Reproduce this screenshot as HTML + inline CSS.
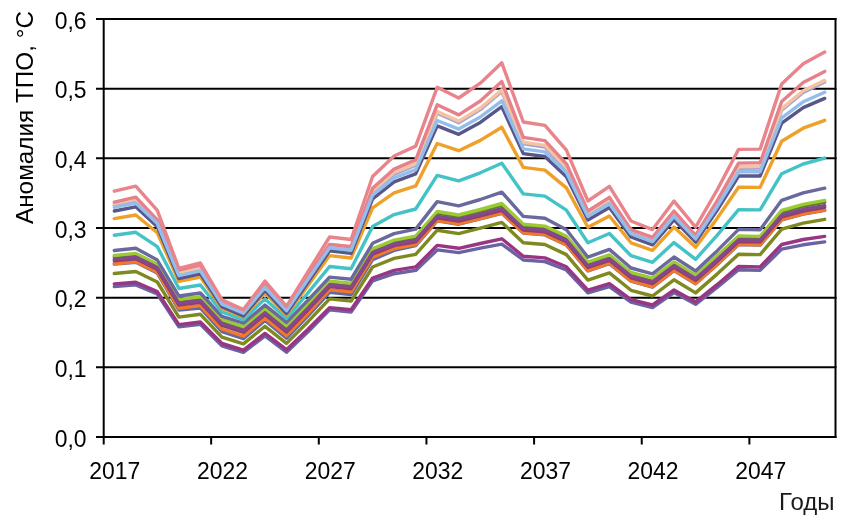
<!DOCTYPE html>
<html><head><meta charset="utf-8"><style>
html,body{margin:0;padding:0;background:#fff;}
body{width:849px;height:521px;overflow:hidden;}
svg{display:block;filter:blur(0.35px);}
text{font-family:"Liberation Sans",Arial,sans-serif;font-size:24px;fill:#000;}
</style></head><body>
<svg width="849" height="521" viewBox="0 0 849 521">
<g stroke="#000" stroke-width="2" fill="none">
<line x1="96" y1="437.00" x2="836.5" y2="437.00"/>
<line x1="96" y1="367.33" x2="836.5" y2="367.33"/>
<line x1="96" y1="297.67" x2="836.5" y2="297.67"/>
<line x1="96" y1="228.00" x2="836.5" y2="228.00"/>
<line x1="96" y1="158.33" x2="836.5" y2="158.33"/>
<line x1="96" y1="88.67" x2="836.5" y2="88.67"/>
<line x1="96" y1="19.00" x2="836.5" y2="19.00"/>
</g>
<g fill="none" stroke-width="3.4" stroke-linejoin="round" stroke-linecap="round">
<polyline points="114.3,286.6 135.8,284.9 157.3,294.0 178.9,326.8 200.4,324.3 221.9,345.8 243.4,352.4 265.0,335.8 286.5,352.2 308.0,331.7 329.6,309.9 351.1,312.1 372.6,280.9 394.1,273.7 415.7,270.4 437.2,249.9 458.7,252.6 480.3,248.1 501.8,244.1 523.3,260.0 544.9,261.6 566.4,270.0 587.9,292.9 609.4,286.5 631.0,302.1 652.5,307.5 674.0,292.6 695.6,304.3 717.1,287.4 738.6,269.7 760.1,270.2 781.7,249.1 803.2,244.8 824.7,241.9" stroke="#6B62A4"/>
<polyline points="114.3,283.9 135.8,282.2 157.3,291.6 178.9,324.6 200.4,322.0 221.9,343.5 243.4,350.1 265.0,333.4 286.5,349.7 308.0,329.2 329.6,307.6 351.1,309.7 372.6,278.0 394.1,270.4 415.7,266.9 437.2,245.4 458.7,248.3 480.3,243.5 501.8,238.8 523.3,256.2 544.9,257.9 566.4,266.8 587.9,290.2 609.4,283.7 631.0,299.6 652.5,305.0 674.0,289.9 695.6,301.9 717.1,284.7 738.6,266.4 760.1,266.9 781.7,244.5 803.2,239.5 824.7,236.4" stroke="#993683"/>
<polyline points="114.3,273.5 135.8,271.5 157.3,282.0 178.9,317.1 200.4,314.3 221.9,337.1 243.4,343.9 265.0,326.3 286.5,343.4 308.0,321.7 329.6,298.9 351.1,301.1 372.6,267.0 394.1,258.4 415.7,254.4 437.2,230.2 458.7,233.6 480.3,228.2 501.8,222.4 523.3,242.7 544.9,244.5 566.4,254.6 587.9,280.1 609.4,272.9 631.0,290.3 652.5,296.0 674.0,279.8 695.6,292.9 717.1,274.1 738.6,254.2 760.1,254.6 781.7,229.1 803.2,223.1 824.7,219.3" stroke="#7E891F"/>
<polyline points="114.3,264.1 135.8,262.3 157.3,273.1 178.9,310.0 200.4,308.1 221.9,331.6 243.4,338.7 265.0,320.5 286.5,338.2 308.0,315.8 329.6,292.3 351.1,294.5 372.6,259.7 394.1,250.4 415.7,245.7 437.2,220.8 458.7,224.2 480.3,218.8 501.8,213.3 523.3,233.1 544.9,234.9 566.4,244.9 587.9,270.9 609.4,263.6 631.0,281.2 652.5,287.1 674.0,270.6 695.6,283.8 717.1,264.7 738.6,244.6 760.1,245.1 781.7,219.8 803.2,214.1 824.7,210.4" stroke="#6468A2"/>
<polyline points="114.3,263.7 135.8,261.7 157.3,272.3 178.9,308.3 200.4,305.5 221.9,329.0 243.4,336.1 265.0,317.9 286.5,335.6 308.0,313.2 329.6,289.7 351.1,291.9 372.6,257.1 394.1,248.6 415.7,244.6 437.2,220.5 458.7,223.9 480.3,218.5 501.8,213.0 523.3,232.8 544.9,234.6 566.4,244.6 587.9,270.6 609.4,263.3 631.0,280.9 652.5,286.8 674.0,270.3 695.6,283.5 717.1,264.4 738.6,244.3 760.1,244.8 781.7,219.5 803.2,213.8 824.7,210.1" stroke="#F07A2A"/>
<polyline points="114.3,256.8 135.8,254.8 157.3,265.4 178.9,300.9 200.4,298.1 221.9,321.1 243.4,328.1 265.0,310.2 286.5,327.5 308.0,305.5 329.6,282.5 351.1,284.7 372.6,250.2 394.1,241.6 415.7,237.6 437.2,213.1 458.7,216.6 480.3,211.1 501.8,205.3 523.3,225.7 544.9,227.5 566.4,237.7 587.9,263.5 609.4,256.2 631.0,273.8 652.5,279.6 674.0,263.2 695.6,276.4 717.1,257.4 738.6,237.3 760.1,237.8 781.7,212.1 803.2,206.0 824.7,202.3" stroke="#56802C"/>
<polyline points="114.3,255.5 135.8,253.4 157.3,264.2 178.9,299.5 200.4,296.7 221.9,319.7 243.4,326.6 265.0,308.8 286.5,326.0 308.0,304.1 329.6,281.2 351.1,283.3 372.6,248.9 394.1,240.2 415.7,236.1 437.2,211.5 458.7,215.0 480.3,209.5 501.8,203.5 523.3,224.3 544.9,226.1 566.4,236.3 587.9,262.2 609.4,254.9 631.0,272.5 652.5,278.2 674.0,261.9 695.6,275.1 717.1,256.1 738.6,235.9 760.1,236.4 781.7,210.4 803.2,204.3 824.7,200.4" stroke="#9CC934"/>
<polyline points="114.3,260.8 135.8,258.8 157.3,269.3 178.9,305.0 200.4,302.2 221.9,325.4 243.4,332.4 265.0,314.5 286.5,332.0 308.0,309.8 329.6,286.5 351.1,288.7 372.6,254.2 394.1,245.7 415.7,241.8 437.2,217.8 458.7,221.1 480.3,215.8 501.8,210.3 523.3,230.1 544.9,231.9 566.4,241.8 587.9,267.5 609.4,260.3 631.0,277.8 652.5,283.6 674.0,267.2 695.6,280.4 717.1,261.5 738.6,241.5 760.1,241.9 781.7,216.8 803.2,211.0 824.7,207.4" stroke="#903E6E"/>
<polyline points="114.3,259.1 135.8,257.1 157.3,267.6 178.9,303.3 200.4,300.5 221.9,323.7 243.4,330.7 265.0,312.8 286.5,330.3 308.0,308.1 329.6,284.8 351.1,287.0 372.6,252.5 394.1,244.0 415.7,240.1 437.2,216.1 458.7,219.4 480.3,214.1 501.8,208.6 523.3,228.4 544.9,230.2 566.4,240.1 587.9,265.8 609.4,258.6 631.0,276.1 652.5,281.9 674.0,265.5 695.6,278.7 717.1,259.8 738.6,239.8 760.1,240.2 781.7,215.1 803.2,209.3 824.7,205.7" stroke="#86488C"/>
<polyline points="114.3,250.5 135.8,248.2 157.3,260.0 178.9,296.0 200.4,293.0 221.9,316.3 243.4,323.1 265.0,305.1 286.5,322.3 308.0,300.1 329.6,277.1 351.1,279.2 372.6,243.3 394.1,233.6 415.7,229.1 437.2,201.6 458.7,205.9 480.3,199.5 501.8,192.1 523.3,216.4 544.9,218.3 566.4,229.8 587.9,257.2 609.4,249.4 631.0,268.0 652.5,273.8 674.0,257.0 695.6,271.0 717.1,250.9 738.6,229.4 760.1,229.7 781.7,200.3 803.2,192.8 824.7,188.2" stroke="#6A699D"/>
<polyline points="114.3,235.2 135.8,232.3 157.3,246.6 178.9,288.5 200.4,285.0 221.9,311.9 243.4,319.8 265.0,298.9 286.5,318.5 308.0,292.9 329.6,266.5 351.1,268.8 372.6,226.4 394.1,214.6 415.7,209.0 437.2,175.4 458.7,180.8 480.3,172.8 501.8,163.2 523.3,193.9 544.9,196.1 566.4,210.2 587.9,242.8 609.4,233.5 631.0,255.7 652.5,262.3 674.0,242.6 695.6,259.3 717.1,235.4 738.6,209.7 760.1,209.9 781.7,173.7 803.2,164.0 824.7,158.1" stroke="#43C3C5"/>
<polyline points="114.3,218.6 135.8,215.0 157.3,232.8 178.9,281.4 200.4,277.1 221.9,308.2 243.4,317.0 265.0,292.9 286.5,315.1 308.0,285.6 329.6,255.6 351.1,258.0 372.6,207.8 394.1,192.9 415.7,185.9 437.2,143.5 458.7,150.7 480.3,140.4 501.8,127.3 523.3,167.4 544.9,170.1 566.4,187.9 587.9,227.3 609.4,216.0 631.0,242.8 652.5,250.3 674.0,227.1 695.6,247.3 717.1,218.4 738.6,187.3 760.1,187.4 781.7,141.3 803.2,128.2 824.7,120.3" stroke="#EEA029"/>
<polyline points="114.3,211.0 135.8,206.8 157.3,226.8 178.9,278.5 200.4,273.8 221.9,306.7 243.4,315.9 265.0,290.3 286.5,313.5 308.0,282.3 329.6,250.8 351.1,253.3 372.6,198.8 394.1,181.9 415.7,173.9 437.2,125.9 458.7,134.3 480.3,122.4 501.8,106.7 523.3,153.6 544.9,156.5 566.4,176.7 587.9,219.9 609.4,207.6 631.0,237.0 652.5,244.8 674.0,219.9 695.6,242.1 717.1,210.4 738.6,176.0 760.1,176.0 781.7,123.2 803.2,107.6 824.7,98.4" stroke="#57578C"/>
<polyline points="114.3,205.3 135.8,200.8 157.3,222.2 178.9,274.1 200.4,269.2 221.9,301.9 243.4,310.8 265.0,285.3 286.5,307.8 308.0,276.9 329.6,246.1 351.1,248.3 372.6,192.3 394.1,174.1 415.7,165.3 437.2,113.2 458.7,122.7 480.3,109.6 501.8,91.5 523.3,143.9 544.9,147.0 566.4,169.0 587.9,214.1 609.4,201.1 631.0,231.8 652.5,239.5 674.0,214.1 695.6,237.3 717.1,204.3 738.6,168.3 760.1,168.0 781.7,110.2 803.2,92.4 824.7,82.0" stroke="#A9A3CF"/>
<polyline points="114.3,203.7 135.8,199.2 157.3,220.6 178.9,272.5 200.4,267.6 221.9,300.3 243.4,309.2 265.0,283.7 286.5,306.2 308.0,275.3 329.6,244.5 351.1,246.7 372.6,190.7 394.1,172.5 415.7,163.7 437.2,111.6 458.7,121.1 480.3,108.0 501.8,89.9 523.3,142.3 544.9,145.4 566.4,167.4 587.9,212.5 609.4,199.5 631.0,230.2 652.5,237.9 674.0,212.5 695.6,235.7 717.1,202.7 738.6,166.7 760.1,166.4 781.7,108.6 803.2,90.8 824.7,80.4" stroke="#F6C3A0"/>
<polyline points="114.3,202.1 135.8,197.2 157.3,219.9 178.9,270.1 200.4,264.8 221.9,302.2 243.4,311.2 265.0,284.9 286.5,308.0 308.0,276.1 329.6,244.4 351.1,246.7 372.6,188.3 394.1,169.1 415.7,159.9 437.2,104.8 458.7,114.9 480.3,101.0 501.8,81.6 523.3,137.4 544.9,140.6 566.4,163.8 587.9,211.0 609.4,197.4 631.0,229.6 652.5,237.4 674.0,211.1 695.6,235.4 717.1,200.8 738.6,163.1 760.1,162.7 781.7,101.5 803.2,82.5 824.7,71.4" stroke="#E6808A"/>
<polyline points="114.3,207.4 135.8,203.1 157.3,223.5 178.9,275.7 200.4,270.9 221.9,304.1 243.4,313.2 265.0,287.5 286.5,310.7 308.0,279.4 329.6,247.7 351.1,250.2 372.6,195.0 394.1,177.8 415.7,169.6 437.2,120.5 458.7,129.1 480.3,117.0 501.8,100.8 523.3,148.9 544.9,151.9 566.4,172.5 587.9,216.4 609.4,203.8 631.0,233.7 652.5,241.6 674.0,216.3 695.6,238.9 717.1,206.7 738.6,171.8 760.1,171.7 781.7,117.8 803.2,101.8 824.7,92.3" stroke="#93BEEB"/>
<polyline points="114.3,191.2 135.8,186.1 157.3,210.3 178.9,268.5 200.4,263.0 221.9,299.8 243.4,309.7 265.0,281.1 286.5,306.4 308.0,271.7 329.6,237.0 351.1,239.5 372.6,176.5 394.1,156.0 415.7,146.1 437.2,87.3 458.7,98.0 480.3,83.2 501.8,62.8 523.3,122.0 544.9,125.4 566.4,150.2 587.9,201.0 609.4,186.4 631.0,221.0 652.5,229.6 674.0,201.1 695.6,227.2 717.1,190.0 738.6,149.4 760.1,149.1 781.7,83.9 803.2,63.8 824.7,52.0" stroke="#E9848B"/>
</g>
<g stroke="#000" stroke-width="2" fill="none">
<line x1="103.7" y1="18" x2="103.7" y2="444.5"/>
<line x1="835.5" y1="18" x2="835.5" y2="437.9"/>
<line x1="211.15" y1="436" x2="211.15" y2="444.5"/>
<line x1="318.79" y1="436" x2="318.79" y2="444.5"/>
<line x1="426.44" y1="436" x2="426.44" y2="444.5"/>
<line x1="534.09" y1="436" x2="534.09" y2="444.5"/>
<line x1="641.74" y1="436" x2="641.74" y2="444.5"/>
<line x1="749.38" y1="436" x2="749.38" y2="444.5"/>
</g>
<text transform="translate(86.5,446.60) scale(0.955,1)" text-anchor="end">0,0</text>
<text transform="translate(86.5,376.93) scale(0.955,1)" text-anchor="end">0,1</text>
<text transform="translate(86.5,307.27) scale(0.955,1)" text-anchor="end">0,2</text>
<text transform="translate(86.5,237.60) scale(0.955,1)" text-anchor="end">0,3</text>
<text transform="translate(86.5,167.93) scale(0.955,1)" text-anchor="end">0,4</text>
<text transform="translate(86.5,98.27) scale(0.955,1)" text-anchor="end">0,5</text>
<text transform="translate(86.5,28.60) scale(0.955,1)" text-anchor="end">0,6</text>
<text transform="translate(114.86,479.0) scale(0.955,1)" text-anchor="middle">2017</text>
<text transform="translate(222.51,479.0) scale(0.955,1)" text-anchor="middle">2022</text>
<text transform="translate(330.16,479.0) scale(0.955,1)" text-anchor="middle">2027</text>
<text transform="translate(437.81,479.0) scale(0.955,1)" text-anchor="middle">2032</text>
<text transform="translate(545.45,479.0) scale(0.955,1)" text-anchor="middle">2037</text>
<text transform="translate(653.10,479.0) scale(0.955,1)" text-anchor="middle">2042</text>
<text transform="translate(760.75,479.0) scale(0.955,1)" text-anchor="middle">2047</text>
<text x="834.5" y="509.6" text-anchor="end" style="font-size:24px;fill:#1a1a1a">Годы</text>
<text transform="translate(33,224.0) rotate(-90)" style="font-size:24.3px">Аномалия ТПО, °C</text>
</svg>
</body></html>
